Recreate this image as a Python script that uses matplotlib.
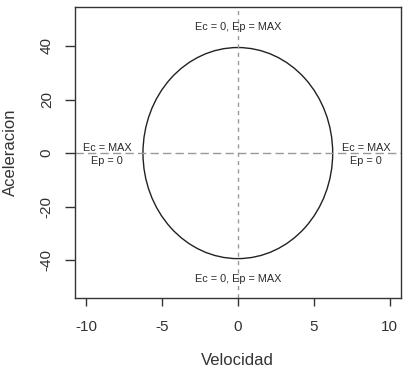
import matplotlib
matplotlib.use("Agg")
import matplotlib.pyplot as plt
from matplotlib.patches import Ellipse

# Data
velocity_amplitude = 6.25      # max |Velocidad|
acceleration_amplitude = 39.4  # max |Aceleracion|
x_ticks = [-10, -5, 0, 5, 10]
y_ticks = [-40, -20, 0, 20, 40]
label_top = "Ec = 0, Ep = MAX"
label_side = "Ec = MAX\nEp = 0"
label_pos_top = (0, 47)
label_pos_bottom = (0, -47)
label_pos_left = (-8.6, -0.5)
label_pos_right = (8.45, -0.5)

plt.rcParams['font.family'] = ['Liberation Sans', 'DejaVu Sans']

fig = plt.figure(figsize=(4.09, 3.68), dpi=100)
ax = fig.add_axes([0.1826, 0.191, 0.7978, 0.789])

ax.set_xlim(-10.75, 10.75)
ax.set_ylim(-54, 54.4)

ell = Ellipse((0, 0), 2 * velocity_amplitude, 2 * acceleration_amplitude,
              fill=False, edgecolor='#222222', linewidth=1.0)
ax.add_patch(ell)

ax.axhline(0, color='#999999', linestyle=(0, (6, 3)), linewidth=1.0)
ax.axvline(0, color='#999999', linestyle=(0, (3, 3)), linewidth=1.0)

tk = dict(ha='center', va='center', fontsize=7.8, color='#2a2a2a')
ax.text(*label_pos_top, label_top, **tk)
ax.text(*label_pos_bottom, label_top, **tk)
ax.text(*label_pos_left, label_side, linespacing=1.3, **tk)
ax.text(*label_pos_right, label_side, linespacing=1.3, **tk)

ax.set_xticks(x_ticks)
ax.set_xticklabels([str(t) for t in x_ticks])
ax.set_yticks(y_ticks)
ax.set_yticklabels([str(t) for t in y_ticks], rotation=90, va='center')

for s in ax.spines.values():
    s.set_color('#333333')
    s.set_linewidth(1.0)

ax.tick_params(axis='both', colors='#333333', labelcolor='#333333',
               labelsize=11, length=6, width=1.0, direction='out')
ax.tick_params(axis='x', pad=10)
ax.tick_params(axis='y', pad=8, length=7)

ax.set_xlabel('Velocidad', fontsize=12, color='#333333', labelpad=14)
ax.set_ylabel('Aceleracion', fontsize=12, color='#333333', labelpad=16)

fig.savefig('out.png', dpi=100)
